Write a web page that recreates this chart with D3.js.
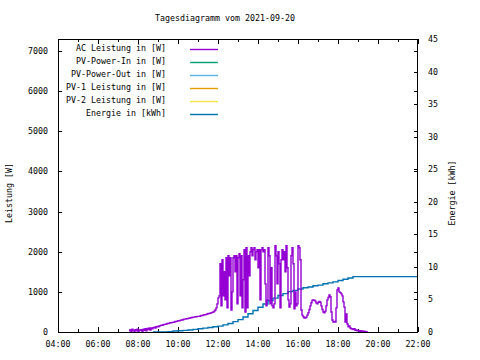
<!DOCTYPE html>
<html>
<head>
<meta charset="utf-8">
<script src="https://cdn.jsdelivr.net/npm/d3@7"></script>
<style>
  html, body { margin: 0; padding: 0; background: #fff; }
  svg { display: block; }
  text { font-family: "DejaVu Sans Mono", "Liberation Mono", monospace; font-size: 8.3px; fill: #000; }
</style>
</head>
<body>
<div id="chart"></div>
<script>
// ---- data -----------------------------------------------------------------
const TITLE = "Tagesdiagramm vom 2021-09-20";
const xTicks = ["04:00", "06:00", "08:00", "10:00", "12:00", "14:00", "16:00", "18:00", "20:00", "22:00"];
const powerTicks = [0, 1000, 2000, 3000, 4000, 5000, 6000, 7000];
const energyTicks = [0, 5, 10, 15, 20, 25, 30, 35, 40, 45];

const legendNames = ["AC Leistung in [W]", "PV-Power-In in [W]", "PV-Power-Out in [W]",
                     "PV-1 Leistung in [W]", "PV-2 Leistung in [W]", "Energie in [kWh]"];
const legendColors = ["#9400d3", "#009e73", "#56b4e9", "#e69f00", "#f0e442", "#0072b2"];

// AC power, one sample every 3 minutes
const SAMPLE_MIN = 3;
const acMorningStart = "07:33";
const acMorning = [
  30, 60, 20, 70, 40, 10, 60, 30, 70, 20, 50, 40,
  60, 20, 70, 40, 80, 30, 90, 60, 100, 50,
  100, 80, 110, 120, 100, 130, 140, 130, 150, 160,
  170, 170, 180, 190, 190, 200, 210, 210, 220, 230,
  230, 240, 240, 250, 260, 260, 270, 280, 280, 290,
  300, 300, 310, 320, 320, 330, 330, 340, 350, 350,
  360, 360, 370, 370, 380, 380, 390, 390, 390, 400,
  410, 410, 420, 430, 430, 440, 450, 460, 460, 470,
  480, 490, 500, 520, 550, 600, 700
];
const acMiddayStart = "12:00";
const acMidday = [
  850, 900, 1700, 650, 1800, 900, 1500, 800, 1850, 600,
  1900, 1400, 1850, 550, 1000, 1850, 1900, 1500, 1900, 700,
  1850, 1950, 900, 1900, 600, 1300, 2050, 500, 2100, 600,
  1900, 1400, 2000, 2100, 1900, 2050, 2100, 1800, 2000, 2050,
  1600, 2050, 800, 2050, 2100, 2000, 2050, 1200, 650, 800,
  2100, 1900, 700, 1600, 650, 600, 700, 2150, 1900, 1200,
  2000, 1700, 600, 1800, 2050, 1800, 2000, 1500, 2150, 1600,
  800, 620, 700, 1900, 2100, 1700, 580, 1000, 650, 700,
  2150, 2100, 1800, 550
];
const acEveningStart = "16:12";
const acEvening = [
  420, 380, 350, 350, 370, 420, 480, 560, 650, 730,
  790, 800, 790, 770, 720, 700, 740, 760, 740, 650,
  560, 500, 480, 520, 650, 800, 860, 920, 880, 500,
  300, 250, 260, 250, 600, 1050, 1100, 1000, 980, 950,
  900, 750, 620, 250, 450, 200, 130, 150, 100, 80,
  75, 60, 80, 40, 50, 30, 40, 20, 30, 15,
  25, 10, 20, 5, 10, 0
];

// energy in kWh, every 15 minutes
const ENERGY_STEP_MIN = 15;
const energyStart = "08:45";
const energy = [
  0, 0, 0, 0.05, 0.15, 0.2, 0.25, 0.3, 0.4, 0.5,
  0.6, 0.7, 0.8, 0.9, 1.1, 1.3, 1.6, 1.9, 2.3, 2.8,
  3.3, 3.8, 4.3, 4.8, 5.2, 5.6, 5.9, 6.2, 6.4, 6.6,
  6.8, 6.9, 7.1, 7.2, 7.4, 7.55, 7.7, 7.9, 8.1, 8.3,
  8.5, 8.5, 8.5, 8.5, 8.5, 8.5, 8.5, 8.5, 8.5, 8.5,
  8.5, 8.5, 8.5, 8.5
];

// ---- helpers --------------------------------------------------------------
const toHours = s => { const [h, m] = s.split(":").map(Number); return h + m / 60; };
function series(start, stepMin, vals) {
  const t0 = toHours(start);
  return vals.map((v, i) => ({ t: t0 + i * stepMin / 60, v }));
}

const acData = [
  ...series(acMorningStart, SAMPLE_MIN, acMorning),
  ...series(acMiddayStart, SAMPLE_MIN, acMidday),
  ...series(acEveningStart, SAMPLE_MIN, acEvening)
];
const energyData = series(energyStart, ENERGY_STEP_MIN, energy);

// ---- layout ---------------------------------------------------------------
const W = 480, H = 360;
const L = 58, R = 418, T = 39, B = 332;

const svg = d3.select("#chart").append("svg")
  .attr("width", W).attr("height", H);

const x = d3.scaleLinear().domain([4, 22]).range([L, R]);
const y = d3.scaleLinear().domain([0, 7300]).range([B, T]);
const y2 = d3.scaleLinear().domain([0, 45]).range([B, T]);

// title
svg.append("text")
  .attr("x", 225).attr("y", 21)
  .attr("text-anchor", "middle")
  .text(TITLE);

// tick marks (inward, mirrored)
const tk = svg.append("g").attr("stroke", "#000").attr("stroke-width", 1)
  .attr("shape-rendering", "crispEdges");

d3.range(4, 22.01, 1).forEach(h => {
  const len = h % 2 === 0 ? 5 : 3;
  const px = Math.round(x(h)) + 0.5;
  tk.append("line").attr("x1", px).attr("x2", px).attr("y1", B).attr("y2", B - len);
  tk.append("line").attr("x1", px).attr("x2", px).attr("y1", T).attr("y2", T + len);
});
powerTicks.forEach(v => {
  const py = Math.round(y(v)) + 0.5;
  tk.append("line").attr("x1", L).attr("x2", L + 4).attr("y1", py).attr("y2", py);
  tk.append("line").attr("x1", R).attr("x2", R - 4).attr("y1", py).attr("y2", py);
});
energyTicks.forEach(v => {
  const py = Math.round(y2(v)) + 0.5;
  tk.append("line").attr("x1", R).attr("x2", R - 4).attr("y1", py).attr("y2", py);
});

// tick labels
svg.append("g").selectAll("text").data(xTicks).join("text")
  .attr("x", d => x(toHours(d)))
  .attr("y", 347)
  .attr("text-anchor", "middle")
  .text(d => d);

svg.append("g").selectAll("text").data(powerTicks).join("text")
  .attr("x", 48)
  .attr("y", d => y(d) + 3)
  .attr("text-anchor", "end")
  .text(d => d);

svg.append("g").selectAll("text").data(energyTicks).join("text")
  .attr("x", 428)
  .attr("y", d => y2(d) + 3)
  .text(d => d);

// axis titles
svg.append("text")
  .attr("transform", "translate(12,193) rotate(-90)")
  .attr("text-anchor", "middle")
  .text("Leistung [W]");
svg.append("text")
  .attr("transform", "translate(455,193) rotate(-90)")
  .attr("text-anchor", "middle")
  .text("Energie [kWh]");

// data lines
const acLine = d3.line().curve(d3.curveStepAfter)
  .x(d => x(d.t)).y(d => y(d.v));
const enLine = d3.line().curve(d3.curveStepAfter)
  .x(d => x(d.t)).y(d => y2(d.v));

const lastE = energyData[energyData.length - 1];
svg.append("path")
  .datum([...energyData, { t: 22, v: lastE.v }])
  .attr("d", enLine)
  .attr("fill", "none")
  .attr("stroke", legendColors[5])
  .attr("stroke-width", 1.4);

svg.append("path")
  .datum(acData)
  .attr("d", acLine)
  .attr("fill", "none")
  .attr("stroke", legendColors[0])
  .attr("stroke-width", 1.4);

// legend
const lg = svg.append("g");
legendNames.forEach((name, i) => {
  const ly = 49 + i * 13;
  lg.append("text")
    .attr("x", 166).attr("y", ly + 2)
    .attr("text-anchor", "end")
    .text(name);
  lg.append("line")
    .attr("x1", 190).attr("x2", 218)
    .attr("y1", ly + 0.5).attr("y2", ly + 0.5)
    .attr("stroke", legendColors[i])
    .attr("stroke-width", 1.4);
});

// frame
svg.append("rect")
  .attr("x", L + 0.5).attr("y", T + 0.5)
  .attr("width", R - L - 1).attr("height", B - T)
  .attr("fill", "none")
  .attr("stroke", "#000")
  .attr("stroke-width", 1)
  .attr("shape-rendering", "crispEdges");
</script>
</body>
</html>
